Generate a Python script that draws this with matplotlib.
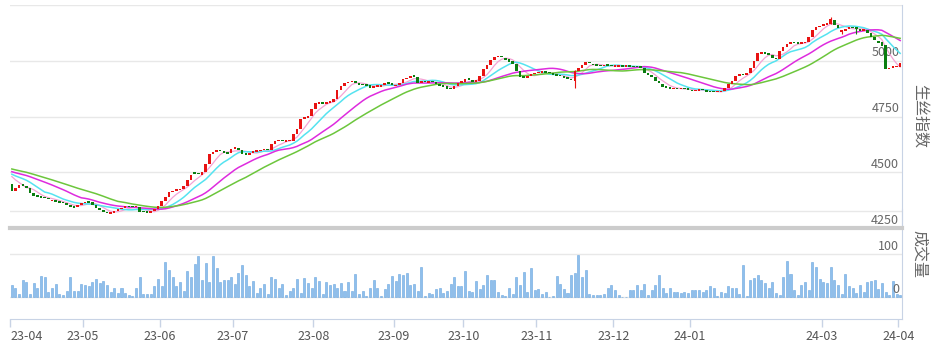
import numpy as np
import pandas as pd
import matplotlib
matplotlib.use('Agg')
import matplotlib.pyplot as plt

plt.rcParams['font.family'] = ['Noto Sans CJK SC', 'DejaVu Sans']

# 显示区间之前的收盘价，只用于让均线从第一根K线就有值
warmup_close = [4550, 4548, 4545, 4543, 4540, 4538, 4535, 4532, 4530, 4527,
                4525, 4522, 4520, 4518, 4515, 4512, 4510, 4508, 4506, 4505,
                4503, 4505, 4502, 4500, 4498, 4502, 4500, 4495, 4490]

# 日K 开盘 / 收盘 (2023-04 ~ 2024-04)
open_px = [
    4446, 4415, 4430, 4442, 4440, 4428, 4406, 4393, 4390, 4386,
    4382, 4370, 4374, 4366, 4362, 4362, 4352, 4346, 4342, 4355,
    4360, 4370, 4366, 4355, 4340, 4332, 4322, 4314, 4318, 4326,
    4334, 4340, 4345, 4344, 4342, 4346, 4322, 4320, 4318, 4324,
    4336, 4350, 4370, 4388, 4410, 4417, 4420, 4426, 4440, 4465,
    4498, 4494, 4488, 4502, 4535, 4580, 4592, 4596, 4596, 4588,
    4586, 4604, 4608, 4600, 4582, 4578, 4588, 4592, 4594, 4598,
    4606, 4598, 4625, 4638, 4643, 4637, 4639, 4642, 4672, 4695,
    4740, 4745, 4752, 4782, 4808, 4812, 4806, 4812, 4814, 4830,
    4868, 4886, 4898, 4904, 4910, 4900, 4892, 4890, 4890, 4878,
    4884, 4884, 4892, 4900, 4898, 4886, 4890, 4902, 4916, 4922,
    4930, 4928, 4900, 4906, 4902, 4907, 4905, 4896, 4890, 4886,
    4880, 4872, 4888, 4902, 4906, 4918, 4914, 4905, 4910, 4932,
    4962, 4982, 5002, 5015, 5018, 5014, 5006, 4998, 4985, 4952,
    4928, 4922, 4932, 4940, 4944, 4945, 4948, 4946, 4944, 4937,
    4932, 4930, 4922, 4918, 4910, 4955, 4966, 4980, 4995, 4986,
    4980, 4978, 4975, 4979, 4977, 4973, 4974, 4977, 4973, 4976,
    4974, 4972, 4970, 4968, 4945, 4934, 4926, 4908, 4896, 4884,
    4878, 4872, 4876, 4872, 4874, 4873, 4870, 4864, 4866, 4871,
    4868, 4863, 4860, 4858, 4859, 4864, 4876, 4894, 4910, 4932,
    4940, 4934, 4944, 4968, 4998, 5032, 5036, 5030, 5026, 5014,
    5006, 5044, 5060, 5076, 5081, 5080, 5076, 5078, 5082, 5108,
    5140, 5150, 5156, 5160, 5165, 5182, 5160, 5130, 5132, 5144,
    5152, 5145, 5144, 5134, 5138, 5126, 5108, 5090, 5082, 5070,
    4962, 4968, 4970, 4972]
close_px = [
    4416, 4428, 4442, 4440, 4428, 4406, 4392, 4390, 4386, 4383,
    4378, 4374, 4368, 4364, 4360, 4352, 4345, 4340, 4355, 4362,
    4368, 4364, 4355, 4340, 4330, 4322, 4316, 4318, 4326, 4334,
    4340, 4345, 4343, 4342, 4345, 4322, 4320, 4318, 4322, 4334,
    4350, 4370, 4388, 4410, 4418, 4420, 4426, 4440, 4465, 4488,
    4494, 4490, 4502, 4535, 4580, 4592, 4595, 4594, 4586, 4584,
    4605, 4608, 4598, 4580, 4578, 4588, 4592, 4594, 4598, 4604,
    4598, 4625, 4640, 4642, 4638, 4640, 4642, 4672, 4695, 4738,
    4745, 4752, 4782, 4810, 4812, 4806, 4812, 4815, 4830, 4868,
    4885, 4898, 4905, 4910, 4900, 4890, 4890, 4888, 4880, 4885,
    4886, 4892, 4900, 4896, 4893, 4890, 4902, 4916, 4922, 4930,
    4928, 4902, 4906, 4904, 4908, 4904, 4895, 4888, 4882, 4874,
    4872, 4888, 4902, 4906, 4918, 4915, 4906, 4910, 4932, 4962,
    4982, 5002, 5016, 5018, 5016, 5004, 4996, 4986, 4952, 4926,
    4924, 4932, 4940, 4944, 4946, 4948, 4945, 4944, 4936, 4932,
    4930, 4921, 4918, 4912, 4955, 4966, 4980, 4995, 4988, 4980,
    4977, 4976, 4979, 4977, 4975, 4975, 4977, 4974, 4976, 4973,
    4971, 4970, 4968, 4945, 4934, 4928, 4908, 4898, 4884, 4880,
    4874, 4876, 4873, 4874, 4872, 4870, 4864, 4868, 4871, 4868,
    4862, 4859, 4858, 4861, 4864, 4876, 4894, 4910, 4932, 4938,
    4934, 4944, 4968, 4998, 5034, 5036, 5030, 5026, 5014, 5006,
    5044, 5060, 5074, 5080, 5079, 5076, 5079, 5083, 5108, 5138,
    5150, 5158, 5162, 5168, 5185, 5162, 5146, 5132, 5142, 5152,
    5146, 5144, 5134, 5140, 5126, 5108, 5092, 5080, 5066, 4962,
    4968, 4970, 4972, 4988]

# 成交量
volume = [
    29, 22, 8, 40, 36, 8, 33, 22, 50, 47,
    13, 22, 30, 8, 5, 15, 47, 15, 15, 30,
    27, 26, 36, 42, 33, 38, 28, 13, 22, 10,
    20, 10, 5, 3, 22, 47, 8, 7, 7, 26,
    42, 26, 81, 64, 47, 26, 36, 15, 61, 47,
    77, 96, 40, 79, 36, 96, 67, 36, 40, 40,
    47, 30, 57, 74, 52, 26, 38, 10, 22, 30,
    8, 47, 42, 22, 30, 5, 15, 22, 42, 10,
    45, 33, 22, 47, 38, 8, 36, 28, 30, 20,
    33, 15, 36, 15, 54, 8, 15, 3, 22, 40,
    22, 3, 18, 30, 50, 38, 54, 52, 57, 28,
    30, 15, 71, 3, 10, 8, 18, 22, 10, 15,
    30, 47, 26, 26, 60, 15, 13, 37, 18, 27,
    52, 40, 40, 12, 5, 3, 20, 8, 47, 28,
    59, 11, 67, 16, 18, 8, 12, 0, 3, 50,
    30, 18, 10, 52, 57, 98, 47, 64, 8, 5,
    4, 4, 8, 20, 27, 16, 5, 0, 0, 16,
    16, 27, 16, 30, 5, 16, 27, 52, 20, 10,
    22, 12, 12, 10, 12, 10, 16, 16, 16, 12,
    16, 25, 22, 3, 12, 10, 25, 20, 20, 8,
    74, 3, 40, 45, 52, 40, 33, 20, 35, 10,
    5, 47, 84, 54, 16, 5, 27, 36, 16, 81,
    69, 42, 35, 33, 71, 40, 28, 8, 54, 25,
    22, 10, 27, 13, 35, 37, 40, 18, 33, 12,
    5, 37, 8, 5]

# 明显的上下影线 {序号: (最高, 最低)}
wicks = {154: (4958, 4878), 224: (5198, 5165), 227: (5135, 5118), 231: (5150, 5122)}

month_start = [0, 20, 41, 61, 83, 105, 124, 144, 165, 186, 222, 243]
month_label = ['23-04', '23-05', '23-06', '23-07', '23-08', '23-09',
               '23-10', '23-11', '23-12', '24-01', '24-03', '24-04']

ma_periods = [5, 10, 20, 30]
ma_colors = ['#f4a3d6', '#55e3f0', '#de2bde', '#6cc63c']
price_ticks = [4250, 4500, 4750, 5000]

UP, DOWN = '#e81212', '#0b7d10'
GRID = '#e8e8e8'
AXIS = '#c8d3e5'
TXT = '#666666'

n = len(close_px)
x = np.arange(n) + 0.5
o = np.array(open_px)
c = np.array(close_px)
colors = np.where(c >= o, UP, DOWN)

W, H = 937, 351
fig = plt.figure(figsize=(W / 100, H / 100), dpi=100)


def box(l, t, r, b):
    return [l / W, 1 - b / H, (r - l) / W, (b - t) / H]


# ---- 成交量 ----
ax_v = fig.add_axes(box(10, 209, 902, 319))
ax_v.set_xlim(0, n)
ax_v.set_ylim(-51, 205)
for v in [0, 100, 200]:
    ax_v.axhline(v, color=GRID, lw=1, zorder=0)
ax_v.bar(x, volume, width=0.55, color='#8fbfec', edgecolor='#6aa6df', lw=0.4, zorder=2)
for v in [0, 100]:
    ax_v.annotate(str(v), xy=(1, v), xycoords=('axes fraction', 'data'),
                  xytext=(-2, 1), textcoords='offset points',
                  ha='right', va='bottom', fontsize=9, color=TXT)
ax_v.set_yticks([])
ax_v.set_xticks(month_start)
ax_v.set_xticklabels(month_label)
ax_v.tick_params(axis='x', length=6, width=1, color=AXIS, labelsize=9,
                 labelcolor='#555555', pad=2)
ax_v.get_xticklabels()[0].set_ha('left')
for s in ['top', 'left']:
    ax_v.spines[s].set_visible(False)
ax_v.spines['bottom'].set_color(AXIS)
ax_v.spines['right'].set_color(AXIS)

# ---- K线 ----
ax_p = fig.add_axes(box(10, 5, 902, 228))
ax_p.patch.set_alpha(0)
ax_p.set_xlim(0, n)
ax_p.set_ylim(4250, 5250)
for v in [4500, 4750, 5000, 5250]:
    ax_p.axhline(v, color=GRID, lw=1, zorder=0)

ax_p.bar(x, np.maximum(np.abs(c - o), 7), bottom=np.minimum(o, c), width=0.7,
         color=colors, lw=0, zorder=4)
for i, (hi, lo) in wicks.items():
    ax_p.vlines(x[i], lo, hi, color=colors[i], lw=0.8, zorder=3.5)

full = pd.Series(warmup_close + close_px, dtype=float)
for p, col in zip(ma_periods, ma_colors):
    ma = full.rolling(p, min_periods=1).mean().iloc[len(warmup_close):]
    ax_p.plot(x, ma.values, color=col, lw=0.9 if p == 5 else 1.1, zorder=3)

for v in price_ticks:
    ax_p.annotate(str(v), xy=(1, v), xycoords=('axes fraction', 'data'),
                  xytext=(-2, 1), textcoords='offset points',
                  ha='right', va='bottom', fontsize=9, color=TXT, zorder=2)

ax_p.set_xticks([])
ax_p.set_yticks([])
for s in ['top', 'left']:
    ax_p.spines[s].set_visible(False)
ax_p.spines['right'].set_color(AXIS)
ax_p.spines['bottom'].set_color('#cccccc')
ax_p.spines['bottom'].set_linewidth(3)

fig.text(919 / W, 1 - 116 / H, '生丝指数', rotation=-90, ha='center', va='center',
         fontsize=11.5, color=TXT)
fig.text(919 / W, 1 - 254 / H, '成交量', rotation=-90, ha='center', va='center',
         fontsize=11.5, color=TXT)

fig.savefig('out.png', dpi=100)
